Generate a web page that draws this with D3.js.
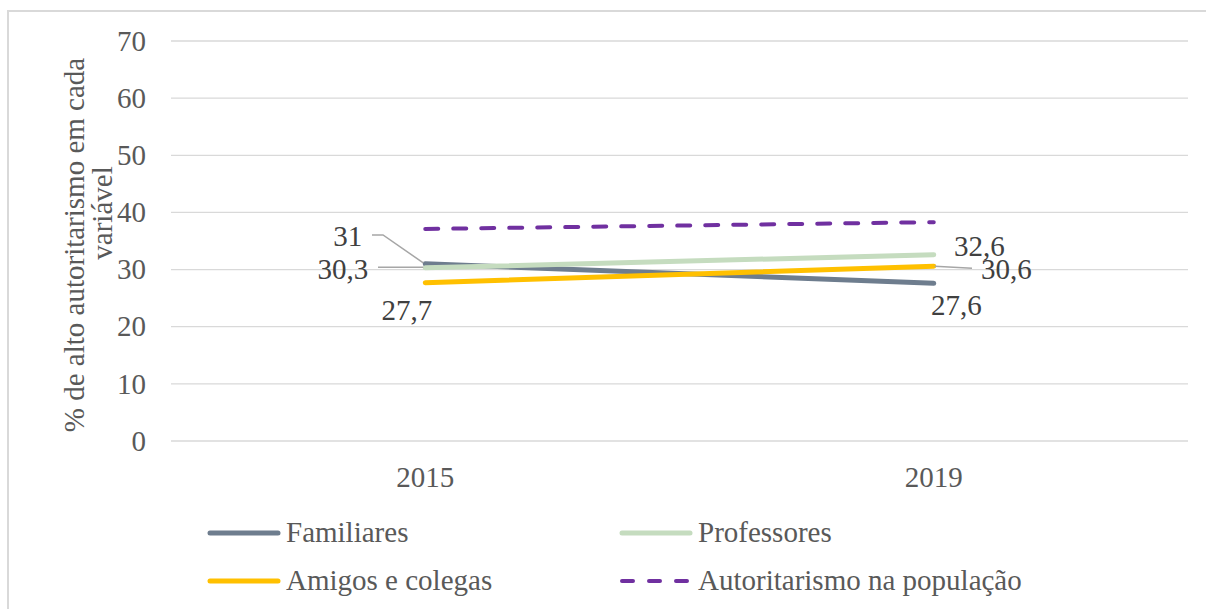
<!DOCTYPE html>
<html>
<head>
<meta charset="utf-8">
<script src="https://cdn.jsdelivr.net/npm/d3@7"></script>
<style>
  body { margin: 0; background: #fff; }
</style>
</head>
<body>
<svg id="chart" width="1206" height="609"></svg>
<script>
// Data
const years = ["2015", "2019"];
const seriesNames = ["Familiares", "Professores", "Amigos e colegas", "Autoritarismo na população"];
const familiares = [31, 27.6];
const professores = [30.3, 32.6];
const amigos = [27.7, 30.6];
const populacao = [37.1, 38.3];
const yTicks = [0, 10, 20, 30, 40, 50, 60, 70];

const FONT = '"Liberation Serif"';
const FS = 29;

const series = [
  { name: seriesNames[0], values: familiares, color: "#6e7d8e", width: 5, dash: null },
  { name: seriesNames[1], values: professores, color: "#c5dcbf", width: 5, dash: null },
  { name: seriesNames[2], values: amigos, color: "#ffc000", width: 5, dash: null },
  { name: seriesNames[3], values: populacao, color: "#7030a0", width: 4, dash: "13,15" }
];

const svg = d3.select("#chart");

// chart border
svg.append("rect")
  .attr("x", 8).attr("y", 11)
  .attr("width", 1220).attr("height", 620)
  .attr("fill", "none")
  .attr("stroke", "#d9d9d9")
  .attr("stroke-width", 2);

const plot = { top: 41, left: 171, right: 1188, bottom: 441 };

const x = d3.scaleBand().domain(years).range([plot.left, plot.right]);
const y = d3.scaleLinear().domain([0, 70]).range([plot.bottom, plot.top]);
const cx = i => x(years[i]) + x.bandwidth() / 2;

// gridlines
svg.append("g")
  .selectAll("line")
  .data(yTicks)
  .enter().append("line")
  .attr("x1", plot.left).attr("x2", plot.right)
  .attr("y1", d => y(d)).attr("y2", d => y(d))
  .attr("stroke", "#d9d9d9")
  .attr("stroke-width", 1.3);

// y tick labels
const yAxis = svg.append("g")
  .attr("transform", `translate(146,0)`)
  .call(d3.axisLeft(y).tickValues(yTicks).tickSize(0).tickPadding(0));
yAxis.select(".domain").remove();
yAxis.selectAll("text")
  .attr("font-family", FONT)
  .attr("font-size", FS)
  .attr("fill", "#595959");

// x tick labels
const xAxis = svg.append("g")
  .attr("transform", `translate(0,${plot.bottom})`)
  .call(d3.axisBottom(x).tickSize(0).tickPadding(0));
xAxis.select(".domain").remove();
xAxis.selectAll("text")
  .attr("dy", null)
  .attr("y", 46)
  .attr("font-family", FONT)
  .attr("font-size", FS)
  .attr("fill", "#595959");

// y axis title (two lines)
svg.append("text")
  .attr("transform", "translate(84,245) rotate(-90)")
  .attr("text-anchor", "middle")
  .attr("font-family", FONT)
  .attr("font-size", FS)
  .attr("fill", "#595959")
  .text("% de alto autoritarismo em cada");
svg.append("text")
  .attr("transform", "translate(112,213) rotate(-90)")
  .attr("text-anchor", "middle")
  .attr("font-family", FONT)
  .attr("font-size", FS)
  .attr("fill", "#595959")
  .text("variável");

// lines
const line = d3.line()
  .x((d, i) => cx(i))
  .y(d => y(d));

series.forEach(s => {
  svg.append("path")
    .datum(s.values)
    .attr("d", line)
    .attr("fill", "none")
    .attr("stroke", s.color)
    .attr("stroke-width", s.width)
    .attr("stroke-linecap", "round")
    .attr("stroke-dasharray", s.dash);
});

// leader lines
const leaders = [
  [[372, 235], [383, 235], [cx(0) - 2, y(familiares[0]) - 1]],
  [[378, y(professores[0]) - 0.5], [cx(0) - 2, y(professores[0]) - 0.5]],
  [[cx(1) + 1, y(amigos[1])], [972, y(amigos[1]) + 2]]
];
leaders.forEach(p => {
  svg.append("path")
    .attr("d", d3.line()(p))
    .attr("fill", "none")
    .attr("stroke", "#a6a6a6")
    .attr("stroke-width", 1.5);
});

// data labels (right edge / baseline offsets from their point)
const labels = [
  { v: familiares[0], i: 0, dx: -63, dy: -18, text: "31" },
  { v: professores[0], i: 0, dx: -57, dy: 11, text: "30,3" },
  { v: amigos[0], i: 0, dx: 7, dy: 37, text: "27,7" },
  { v: professores[1], i: 1, dx: 71, dy: 1, text: "32,6" },
  { v: amigos[1], i: 1, dx: 98, dy: 13, text: "30,6" },
  { v: familiares[1], i: 1, dx: 48, dy: 32, text: "27,6" }
];
labels.forEach(l => {
  svg.append("text")
    .attr("x", cx(l.i) + l.dx)
    .attr("y", y(l.v) + l.dy)
    .attr("text-anchor", "end")
    .attr("font-family", FONT)
    .attr("font-size", FS)
    .attr("fill", "#404040")
    .text(l.text);
});

// legend
const legendCols = [208, 620];
const legendRows = [533, 581];
series.forEach((s, k) => {
  const lx = legendCols[k % 2];
  const ly = legendRows[Math.floor(k / 2)];
  svg.append("line")
    .attr("x1", lx + 2).attr("x2", lx + 70)
    .attr("y1", ly).attr("y2", ly)
    .attr("stroke", s.color)
    .attr("stroke-width", s.width)
    .attr("stroke-linecap", "round")
    .attr("stroke-dasharray", s.dash ? "11,16" : null);
  svg.append("text")
    .attr("x", lx + 78)
    .attr("y", ly + 9)
    .attr("font-family", FONT)
    .attr("font-size", FS)
    .attr("fill", "#595959")
    .text(s.name);
});
</script>
</body>
</html>
